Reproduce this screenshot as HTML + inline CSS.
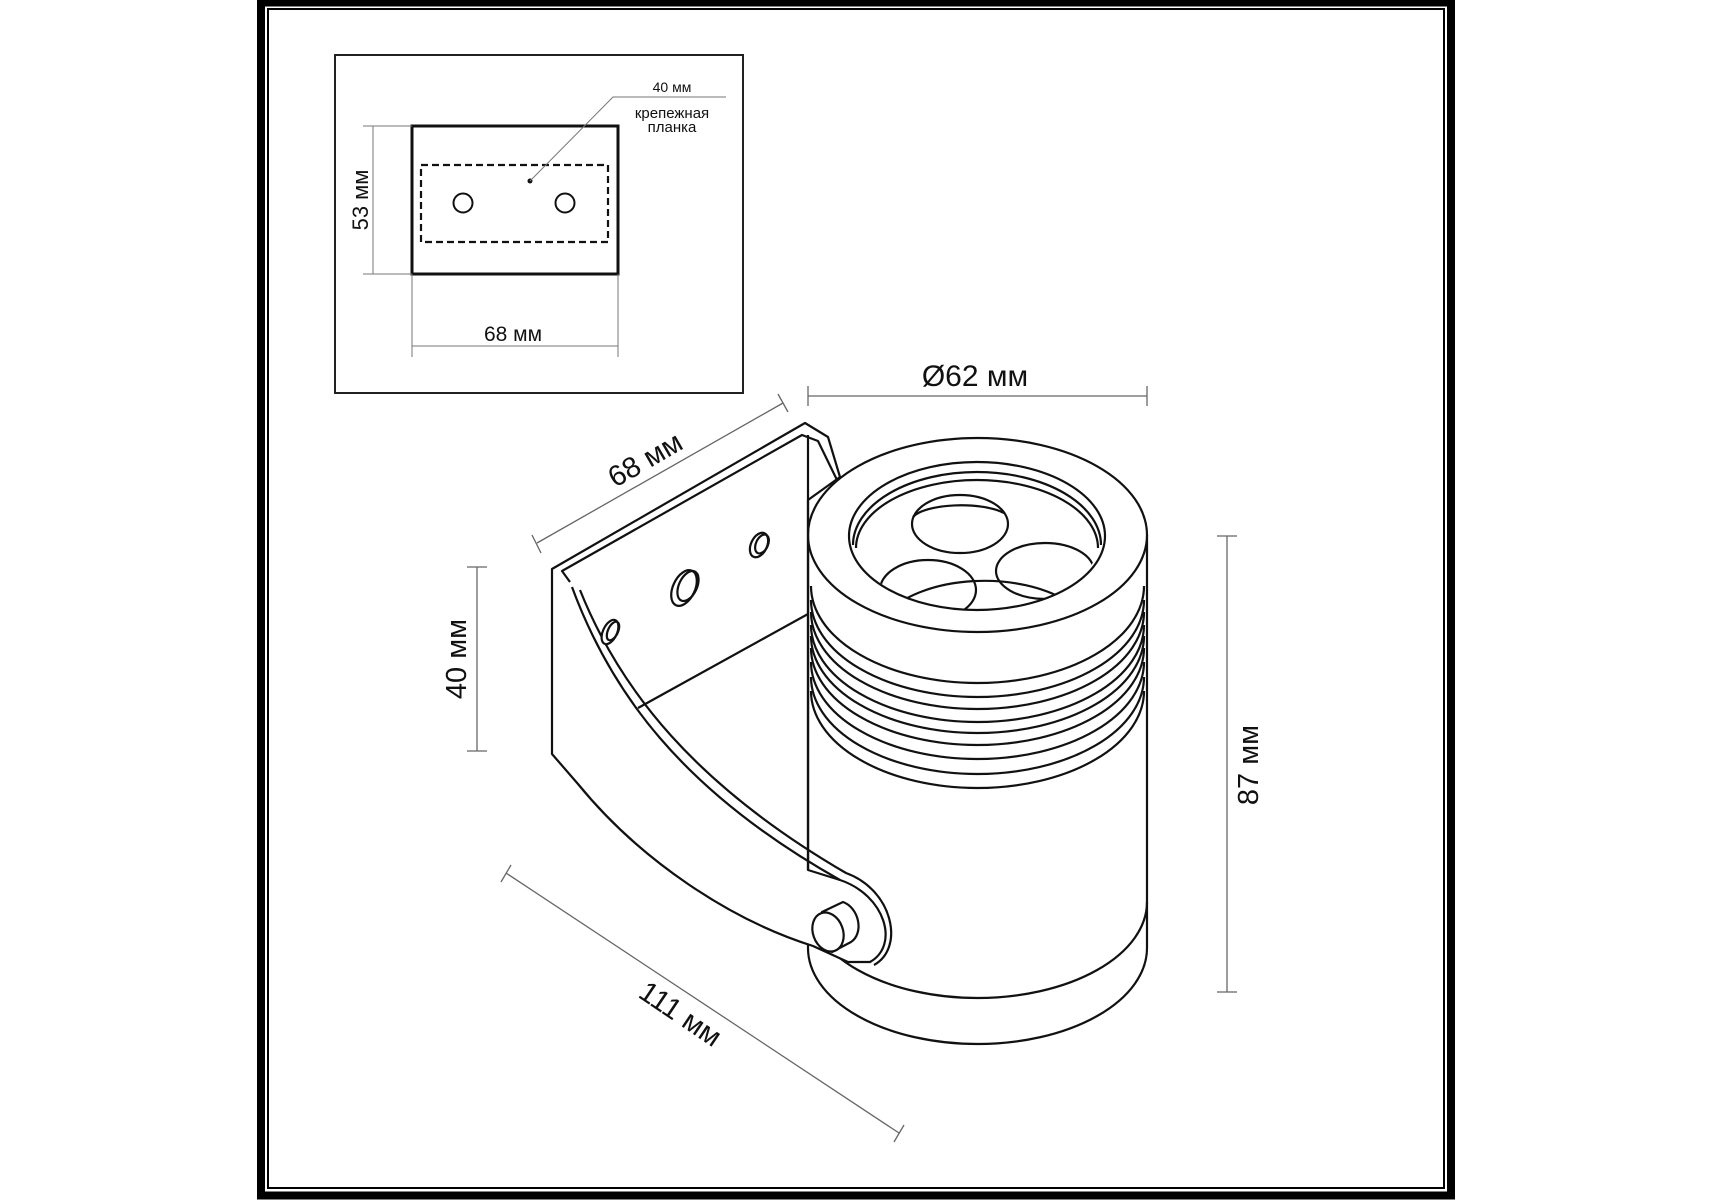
<!DOCTYPE html>
<html><head><meta charset="utf-8"><style>
html,body{margin:0;padding:0;background:#fff;}
svg{display:block;}
text{font-family:"Liberation Sans","DejaVu Sans",sans-serif;fill:#111;}
</style></head><body>
<svg width="1715" height="1200" viewBox="0 0 1715 1200" xmlns="http://www.w3.org/2000/svg">
<!-- frame -->
<rect x="261" y="2.5" width="1190" height="1193" fill="none" stroke="#000" stroke-width="8"/>
<rect x="268" y="9" width="1176" height="1179" fill="none" stroke="#000" stroke-width="2"/>

<!-- inset -->
<rect x="335" y="55" width="408" height="338" fill="none" stroke="#222" stroke-width="2"/>
<rect x="412" y="126" width="206" height="148" fill="none" stroke="#111" stroke-width="3"/>
<rect x="421" y="165" width="187" height="77" fill="none" stroke="#111" stroke-width="2.2" stroke-dasharray="7 4"/>
<circle cx="463" cy="203" r="9.5" fill="none" stroke="#111" stroke-width="2"/>
<circle cx="565" cy="203" r="9.5" fill="none" stroke="#111" stroke-width="2"/>
<circle cx="530" cy="181" r="2.5" fill="#111"/>
<polyline points="530,181 613,97 726,97" fill="none" stroke="#777" stroke-width="1"/>
<text x="672" y="92" font-size="14" text-anchor="middle">40 мм</text>
<text x="672" y="118" font-size="15" text-anchor="middle">крепежная</text>
<text x="672" y="132" font-size="15" text-anchor="middle">планка</text>
<g stroke="#777" stroke-width="1" fill="none">
<line x1="373" y1="126" x2="373" y2="274"/>
<line x1="363" y1="126" x2="412" y2="126"/>
<line x1="363" y1="274" x2="412" y2="274"/>
<line x1="412" y1="346" x2="618" y2="346"/>
<line x1="412" y1="274" x2="412" y2="357"/>
<line x1="618" y1="274" x2="618" y2="357"/>
</g>
<text transform="translate(368,200) rotate(-90)" font-size="22" text-anchor="middle">53 мм</text>
<text x="513" y="341" font-size="21" text-anchor="middle">68 мм</text>

<!-- dimensions -->
<g stroke="#666" stroke-width="1.3" fill="none">
<line x1="808" y1="396" x2="1147" y2="396"/>
<line x1="808" y1="386" x2="808" y2="406"/>
<line x1="1147" y1="386" x2="1147" y2="406"/>
<line x1="1227" y1="536" x2="1227" y2="992"/>
<line x1="1217" y1="536" x2="1237" y2="536"/>
<line x1="1217" y1="992" x2="1237" y2="992"/>
<line x1="477" y1="567" x2="477" y2="751"/>
<line x1="467" y1="567" x2="487" y2="567"/>
<line x1="467" y1="751" x2="487" y2="751"/>
<line x1="537" y1="543" x2="783" y2="403"/>
<line x1="532" y1="535" x2="541" y2="553"/>
<line x1="778" y1="394" x2="788" y2="412"/>
<line x1="506" y1="873" x2="899" y2="1133"/>
<line x1="501" y1="882" x2="511" y2="865"/>
<line x1="894" y1="1142" x2="904" y2="1125"/>
</g>
<text x="975" y="386" font-size="30" text-anchor="middle">Ø62 мм</text>
<text transform="translate(1258,765) rotate(-90)" font-size="29" text-anchor="middle">87 мм</text>
<text transform="translate(466,659) rotate(-90)" font-size="29" text-anchor="middle">40 мм</text>
<text transform="translate(650,468) rotate(-30)" font-size="29" text-anchor="middle">68 мм</text>
<text transform="translate(675,1022) rotate(34)" font-size="29" text-anchor="middle">111 мм</text>

<!-- cylinder -->
<g stroke="#111" stroke-width="2.2" fill="none">
<line x1="808" y1="535" x2="808" y2="948"/>
<line x1="1147" y1="535" x2="1147" y2="948"/>
<path d="M808,948 A169.5,96 0 0 0 1147,948"/>
<path d="M808,902 A169.5,96 0 0 0 1147,902"/>
<ellipse cx="977.5" cy="535" rx="169.5" ry="97" fill="#fff"/>
<path d="M811,586 A166.5,97 0 0 0 1144,586"/>
<path d="M811,600 A166.5,97 0 0 0 1144,600"/>
<path d="M811,612 A166.5,97 0 0 0 1144,612"/>
<path d="M811,625 A166.5,97 0 0 0 1144,625"/>
<path d="M811,636 A166.5,97 0 0 0 1144,636"/>
<path d="M811,648 A166.5,97 0 0 0 1144,648"/>
<path d="M811,662 A166.5,97 0 0 0 1144,662"/>
<path d="M811,677 A166.5,97 0 0 0 1144,677"/>
<path d="M811,691 A166.5,97 0 0 0 1144,691"/>
<ellipse cx="977" cy="536" rx="128" ry="74"/>
<path d="M853,545 A124,73 0 0 1 1101,545"/>
<path d="M856,548 A121,68 0 0 1 1098,548"/>
<clipPath id="well"><ellipse cx="977" cy="541" rx="122" ry="69"/></clipPath>
<g clip-path="url(#well)">
<path d="M890,610 A110,60 0 0 1 1065,600"/>
<ellipse cx="960" cy="524" rx="48" ry="29"/>
<path d="M913,517 A50,16 0 0 1 1004,513"/>
<ellipse cx="928" cy="590" rx="48" ry="30"/>
<ellipse cx="1045" cy="571" rx="49" ry="28"/>
</g>
</g>

<!-- bracket -->
<g stroke="#111" stroke-width="2.2" fill="#fff" stroke-linejoin="round">
<path d="M552,569 L805,423 L828,437 L840,477 L808,500 L808,870 L840,880 C885,895 900,945 870,962 L848,962 L813,946 C730,920 640,860 578,784 L552,754 Z"/>
<path d="M570,582 L562,571 L802,435 L818,441 L837,480" fill="none"/>
<line x1="808" y1="435" x2="808" y2="870"/>
<line x1="638" y1="708" x2="808" y2="614"/>
<path d="M572,587 C610,690 680,790 840,880" fill="none"/>
<path d="M580,590 C620,690 695,785 846,873 C893,890 905,948 874,965" fill="none"/>
<ellipse cx="684" cy="588" rx="11" ry="19" transform="rotate(25 684 588)"/>
<ellipse cx="688" cy="586" rx="9" ry="16" transform="rotate(25 688 586)" fill="none"/>
<ellipse cx="759" cy="545" rx="8" ry="13" transform="rotate(25 759 545)"/>
<ellipse cx="762" cy="544" rx="6" ry="10" transform="rotate(25 762 544)" fill="none"/>
<ellipse cx="610" cy="632" rx="7" ry="13" transform="rotate(25 610 632)"/>
<ellipse cx="613" cy="631" rx="5" ry="10" transform="rotate(25 613 631)" fill="none"/>
<!-- bolt -->
<path d="M822,912 L843,902 A17,22 -20 0 1 851,942 L832,952 Z"/>
<ellipse cx="828" cy="932" rx="15" ry="20" transform="rotate(-20 828 932)"/>
</g>
</svg>
</body></html>
